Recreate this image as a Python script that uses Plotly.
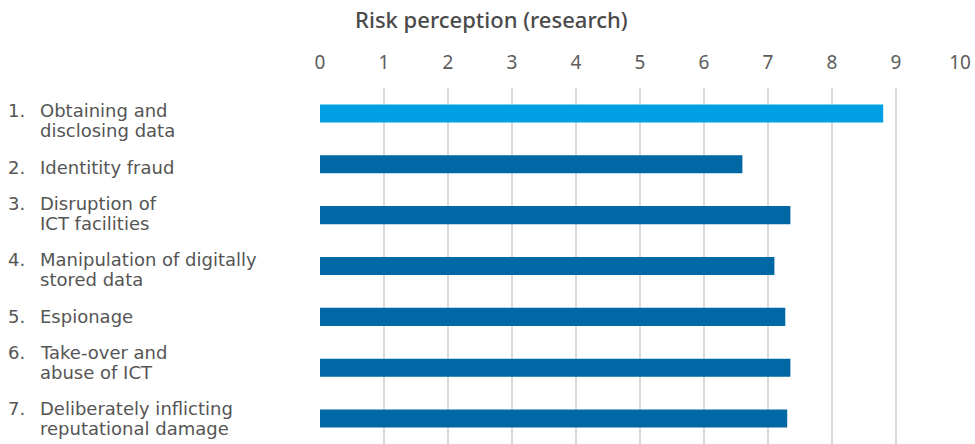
import plotly.graph_objects as go

# Risk perception scores per threat category
numbers = ["1.", "2.", "3.", "4.", "5.", "6.", "7."]
categories = [
    "Obtaining and<br>disclosing data",
    "Identitity fraud",
    "Disruption of<br>ICT facilities",
    "Manipulation of digitally<br>stored data",
    "Espionage",
    "Take-over and<br>abuse of ICT",
    "Deliberately inflicting<br>reputational damage",
]
scores = [8.8, 6.6, 7.35, 7.1, 7.27, 7.35, 7.3]
tick_values = list(range(0, 11))

HIGHLIGHT = "#009fe3"
BASE = "#0068a4"
TEXT = "#555555"
FONT = "Noto Sans"
LABEL_FONT = "DejaVu Sans"
LABEL_SIZE = 18

colors = [HIGHLIGHT] + [BASE] * (len(scores) - 1)
ids = list(range(len(scores)))

fig = go.Figure(
    go.Bar(
        x=scores,
        y=ids,
        orientation="h",
        width=0.355,
        marker=dict(color=colors, line=dict(width=0)),
        hoverinfo="skip",
    )
)

# Category labels in the left margin: a number column and a text column,
# every text line placed on its own for a tight line spacing.
PLOT_LEFT = 320
PLOT_WIDTH = 640
NUM_X = (6 - PLOT_LEFT) / PLOT_WIDTH
TEXT_X = (38 - PLOT_LEFT) / PLOT_WIDTH
LINE_GAP = 20
label_drop = [7, 3, -1.5, 3.5, 0, -5.5, -0.5]  # px below bar centre

for i, (num, cat) in enumerate(zip(numbers, categories)):
    lines = cat.split("<br>")
    n = len(lines)
    for j, line in enumerate(lines):
        shift = -(label_drop[i] + (j - (n - 1) / 2) * LINE_GAP)
        fig.add_annotation(
            x=TEXT_X, y=i, xref="paper", yref="y", text=line, showarrow=False,
            xanchor="left", yanchor="middle", align="left", yshift=shift,
            font=dict(family=LABEL_FONT, size=LABEL_SIZE, color=TEXT),
        )
        if j == 0:
            fig.add_annotation(
                x=NUM_X, y=i, xref="paper", yref="y", text=num, showarrow=False,
                xanchor="left", yanchor="middle", align="left", yshift=shift,
                font=dict(family=LABEL_FONT, size=LABEL_SIZE, color=TEXT),
            )

fig.update_layout(
    width=975,
    height=444,
    margin=dict(l=320, r=15, t=88, b=0),
    paper_bgcolor="white",
    plot_bgcolor="white",
    showlegend=False,
    title=dict(
        text="Risk perception (research)",
        x=0.504, xanchor="center", y=0.955, yanchor="middle",
        font=dict(family=FONT, size=22, color="#4a4a4a", weight=500),
    ),
    xaxis=dict(
        side="top",
        range=[0, 10],
        tickvals=tick_values,
        ticktext=[str(v) for v in tick_values],
        showgrid=True,
        gridcolor="#dadada",
        gridwidth=2,
        zeroline=False,
        showline=False,
        ticks="",
        ticklabelstandoff=14,
        tickfont=dict(family=FONT, size=19, color="#5c5c5c"),
        fixedrange=True,
    ),
    yaxis=dict(
        range=[len(scores) - 0.5, -0.5],
        showticklabels=False,
        showgrid=False,
        zeroline=False,
        showline=False,
        fixedrange=True,
    ),
)

fig.write_html("out.html")
